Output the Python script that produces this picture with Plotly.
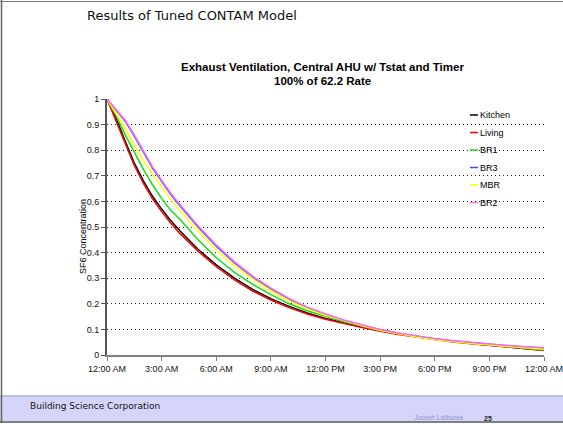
import plotly.graph_objects as go

# ---- data (hours since midnight, SF6 concentration) ----
hours = [0, 0.5, 1, 1.5, 2, 2.5, 3, 3.5, 4, 5, 6, 7, 8, 9, 10, 11, 12,
         13, 14, 15, 16, 17, 18, 19, 20, 21, 22, 23, 24]

kitchen = [1.0, 0.925, 0.835, 0.75, 0.68, 0.62, 0.57, 0.525, 0.485, 0.413, 0.352, 0.300,
           0.256, 0.220, 0.190, 0.164, 0.143, 0.125, 0.109, 0.095, 0.082, 0.071, 0.061,
           0.052, 0.045, 0.038, 0.031, 0.025, 0.019]
living = [1.0, 0.915, 0.825, 0.74, 0.67, 0.61, 0.56, 0.515, 0.475, 0.405, 0.345, 0.293,
          0.250, 0.215, 0.185, 0.160, 0.140, 0.122, 0.107, 0.093, 0.080, 0.070, 0.060,
          0.051, 0.044, 0.037, 0.030, 0.024, 0.018]
br1 = [1.0, 0.935, 0.86, 0.79, 0.725, 0.665, 0.612, 0.565, 0.53, 0.45, 0.38, 0.323,
       0.276, 0.236, 0.200, 0.173, 0.150, 0.130, 0.113, 0.097, 0.084, 0.072, 0.062,
       0.053, 0.046, 0.039, 0.032, 0.026, 0.020]
br3 = [1.0, 0.958, 0.913, 0.855, 0.79, 0.73, 0.678, 0.627, 0.583, 0.50, 0.425, 0.360,
       0.305, 0.258, 0.218, 0.185, 0.158, 0.135, 0.116, 0.099, 0.085, 0.073, 0.063,
       0.055, 0.048, 0.042, 0.036, 0.031, 0.026]
mbr = [1.0, 0.945, 0.885, 0.82, 0.76, 0.706, 0.655, 0.607, 0.565, 0.485, 0.41, 0.348,
       0.296, 0.250, 0.212, 0.180, 0.155, 0.133, 0.114, 0.096, 0.082, 0.070, 0.060,
       0.052, 0.045, 0.039, 0.033, 0.027, 0.022]
br2 = [1.0, 0.96, 0.917, 0.86, 0.795, 0.735, 0.683, 0.632, 0.588, 0.505, 0.43, 0.364,
       0.308, 0.261, 0.221, 0.187, 0.160, 0.137, 0.118, 0.100, 0.086, 0.074, 0.064,
       0.056, 0.049, 0.043, 0.037, 0.032, 0.028]

series_names = ["Kitchen", "Living", "BR1", "BR3", "MBR", "BR2"]
series_values = [kitchen, living, br1, br3, mbr, br2]
series_colors = ["#000000", "#FF0000", "#11DD11", "#3355FF", "#FFFF00", "#FF66FF"]

x_tick_vals = [0, 3, 6, 9, 12, 15, 18, 21, 24]
x_tick_text = ["12:00 AM", "3:00 AM", "6:00 AM", "9:00 AM", "12:00 PM",
               "3:00 PM", "6:00 PM", "9:00 PM", "12:00 AM"]
y_tick_vals = [0, 0.1, 0.2, 0.3, 0.4, 0.5, 0.6, 0.7, 0.8, 0.9, 1]
y_tick_text = ["0", "0.1", "0.2", "0.3", "0.4", "0.5", "0.6", "0.7", "0.8", "0.9", "1"]

# ---- layout geometry ----
W, H = 563, 424
ML, MR, MT, MB = 107, 19, 99, 69
PW = W - ML - MR
PH = H - MT - MB


def px(xp):
    return (xp - ML) / PW


def py(yp):
    return (H - MB - yp) / PH


fig = go.Figure()
for name, vals, col in zip(series_names, series_values, series_colors):
    fig.add_trace(go.Scatter(x=hours, y=vals, mode="lines", name=name,
                             line=dict(color=col, width=1.5), showlegend=False,
                             cliponaxis=False))

shapes = []
annotations = []

# footer band
shapes.append(dict(type="rect", xref="paper", yref="paper", x0=px(0), x1=px(W + 5),
                   y0=py(421), y1=py(396), fillcolor="#D5D5FA", line=dict(width=0),
                   layer="below"))
shapes.append(dict(type="line", xref="paper", yref="paper", x0=px(0), x1=px(W + 5),
                   y0=py(396), y1=py(396), line=dict(color="#AFAFE0", width=1.5)))
# slide borders
shapes.append(dict(type="line", xref="paper", yref="paper", x0=px(1.5), x1=px(1.5),
                   y0=py(0), y1=py(423), line=dict(color="#666666", width=1.5)))
shapes.append(dict(type="line", xref="paper", yref="paper", x0=px(0), x1=px(W + 5),
                   y0=py(1.5), y1=py(1.5), line=dict(color="#777777", width=1)))
shapes.append(dict(type="line", xref="paper", yref="paper", x0=px(0), x1=px(W + 5),
                   y0=py(422), y1=py(422), line=dict(color="#555555", width=1.5)))

# manual legend
leg_y0, leg_dy = 115, 17.5
for i, (name, col) in enumerate(zip(series_names, series_colors)):
    yy = leg_y0 + i * leg_dy
    shapes.append(dict(type="line", xref="paper", yref="paper", x0=px(470), x1=px(478),
                       y0=py(yy), y1=py(yy), line=dict(color=col, width=1.5)))
    annotations.append(dict(text=name, xref="paper", yref="paper", x=px(477.5), y=py(yy),
                            xanchor="left", yanchor="middle", showarrow=False,
                            font=dict(family="Arial, Liberation Sans", size=9, color="#000")))

# titles
annotations.append(dict(text="Results of Tuned CONTAM Model", xref="paper", yref="paper",
                        x=px(85), y=py(15), xanchor="left", yanchor="middle", showarrow=False,
                        font=dict(family="DejaVu Sans", size=13, color="#111")))
annotations.append(dict(text="<b>Exhaust Ventilation, Central AHU w/ Tstat and Timer</b>",
                        xref="paper", yref="paper", x=px(322), y=py(67), xanchor="center",
                        yanchor="middle", showarrow=False,
                        font=dict(family="Arial, Liberation Sans", size=11.5, color="#000")))
annotations.append(dict(text="<b>100% of 62.2 Rate</b>",
                        xref="paper", yref="paper", x=px(322), y=py(81), xanchor="center",
                        yanchor="middle", showarrow=False,
                        font=dict(family="Arial, Liberation Sans", size=11.5, color="#000")))
annotations.append(dict(text="SF6 Concentration", xref="paper", yref="paper",
                        x=px(83), y=py(237), xanchor="center", yanchor="middle",
                        textangle=-90, showarrow=False,
                        font=dict(family="Arial, Liberation Sans", size=9, color="#000")))
# footer texts
annotations.append(dict(text="Building Science Corporation", xref="paper", yref="paper",
                        x=px(28), y=py(406), xanchor="left", yanchor="middle", showarrow=False,
                        font=dict(family="DejaVu Sans", size=9, color="#111")))
annotations.append(dict(text="Joseph Lstiburek", xref="paper", yref="paper",
                        x=px(466), y=py(418), xanchor="right", yanchor="middle", showarrow=False,
                        font=dict(family="Arial, Liberation Sans", size=6.5, color="#9494CC")))
annotations.append(dict(text="<b>25</b>", xref="paper", yref="paper",
                        x=px(482), y=py(418), xanchor="left", yanchor="middle", showarrow=False,
                        font=dict(family="Arial, Liberation Sans", size=7, color="#222")))

fig.update_layout(
    width=W, height=H, autosize=False,
    margin=dict(l=ML, r=MR, t=MT, b=MB, pad=0),
    paper_bgcolor="white", plot_bgcolor="white",
    shapes=shapes, annotations=annotations,
    xaxis=dict(range=[0, 24], tickvals=x_tick_vals, ticktext=x_tick_text,
               showgrid=False, zeroline=False, showline=True, linecolor="#808080",
               linewidth=2, ticks="outside", ticklen=4, tickcolor="#808080",
               ticklabeloverflow="allow", automargin=False,
               tickfont=dict(family="Arial, Liberation Sans", size=9, color="#111")),
    yaxis=dict(range=[0, 1], tickvals=y_tick_vals, ticktext=y_tick_text,
               showgrid=True, gridcolor="#222", griddash="1px,3px", gridwidth=1,
               zeroline=False, showline=True, linecolor="#555555", linewidth=2,
               ticks="outside", ticklen=4, tickcolor="#555555", automargin=False,
               tickfont=dict(family="Arial, Liberation Sans", size=9, color="#111")),
)

fig.write_html("out.html")
